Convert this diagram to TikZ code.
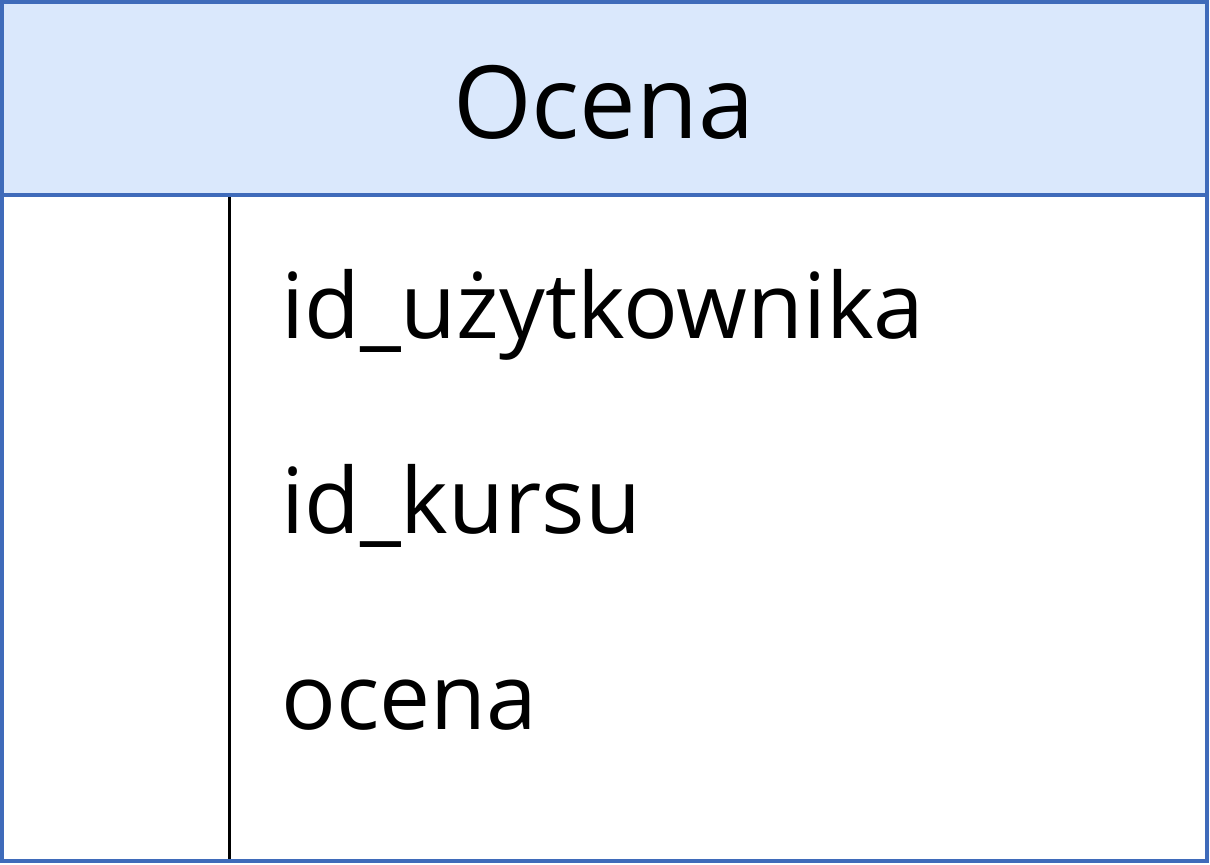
\documentclass[tikz,border=0pt]{standalone}
\usepackage{fontspec}
\setmainfont{Open Sans}
\definecolor{headerblue}{HTML}{DAE8FC}
\definecolor{tableblue}{HTML}{3F6BBA}
\begin{document}
\begin{tikzpicture}[
x=0.5pt, y=-0.5pt,
tableframe/.style={draw=tableblue, line width=2pt},
header/.style={fill=headerblue},
title/.style={font=\fontsize{50.5}{60}\selectfont, anchor=base, inner sep=0pt},
field/.style={font=\fontsize{45.5}{54}\selectfont, anchor=base west, inner sep=0pt},
divider/.style={draw=black, line width=1.5pt},
]
\useasboundingbox (0,0) rectangle (1210,864);
\fill[header] (2,2) rectangle (1207,195);
\coordinate (top) at (229,195);
\coordinate (bottom) at (229,861);
\draw[divider] (top) -- (bottom);
\draw[tableframe] (2,2) rectangle (1207,861);
\draw[tableframe] (2,195) -- (1207,195);
\node[title] (name) at (604,138) {Ocena};
\node[field] (user) at (281,338) {id\_użytkownika};
\node[field] (course) at (281,533) {id\_kursu};
\node[field] (grade) at (281,729) {ocena};
\end{tikzpicture}
\end{document}
